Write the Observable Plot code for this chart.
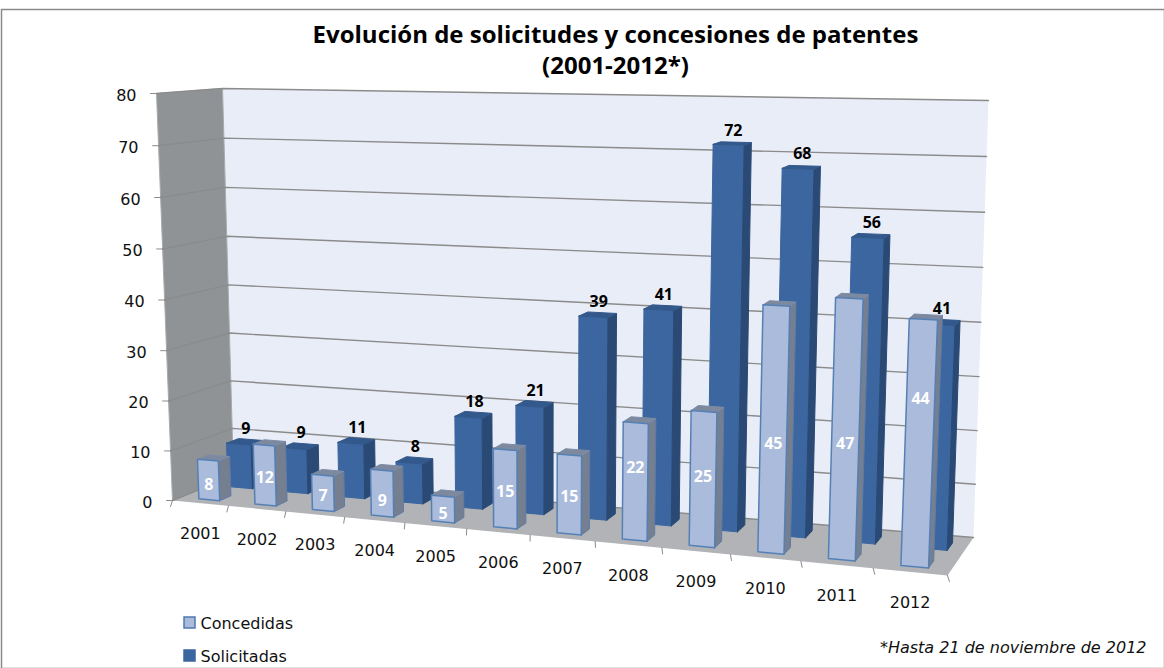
<!DOCTYPE html>
<html><head><meta charset="utf-8">
<style>html,body{margin:0;padding:0;background:#fff}svg{display:block}</style>
<script src="https://cdn.jsdelivr.net/npm/d3@7"></script>
<script src="https://cdn.jsdelivr.net/npm/@observablehq/plot@0.6"></script>
</head><body><div id="c"></div>
<script>
const years = ["2001","2002","2003","2004","2005","2006","2007","2008","2009","2010","2011","2012"];
const concedidas = [8,12,7,9,5,15,15,22,25,45,47,44];
const solicitadas = [9,9,11,8,18,21,39,41,72,68,56,41];
const valueTicks = [0,10,20,30,40,50,60,70,80];
const titleLines = ["Evolución de solicitudes y concesiones de patentes","(2001-2012*)"];
const seriesNames = ["Concedidas","Solicitadas"];
const footnote = "*Hasta 21 de noviembre de 2012";

// Layout: the axis height at which each white label sits inside its bar
const concLabelHeights = [3,5.5,3,3,1.5,7,7,13.5,13,20,21,30];

// Perspective box of the 3-D chart: corners [front/back][left/right][bottom/top]
const C = {
  fl0:[172,500], fl1:[156,93], bl0:[233,475], bl1:[222,88],
  fr0:[947,575], fr1:[965,113], br0:[973,537], br1:[988,100]
};
const warp = (t,a) => t/(t+a*(1-t));
const mix = (p,q,t) => [p[0]+(q[0]-p[0])*t, p[1]+(q[1]-p[1])*t];
// cat: category position 0..12, depth: 0 front..1 back, val: axis value
function project(cat, depth, val){
  const u = warp(cat/12,1.167), w = warp(val/80,1.03);
  const f0 = mix(C.fl0,C.fr0,u), f1 = mix(C.fl1,C.fr1,u);
  const b0 = mix(C.bl0,C.br0,u), b1 = mix(C.bl1,C.br1,u);
  return mix(mix(f0,b0,depth), mix(f1,b1,depth), w);
}
function poly(id, corners){
  const pts = [...corners, corners[0]];
  return pts.map(([c,d,v]) => { const [x,y] = project(c,d,v); return {id,x,y}; });
}
function barFaces(values, d0, d1, center, hw){
  const front=[], side=[], top=[];
  values.forEach((v,i)=>{
    const a=i+center-hw, b=i+center+hw;
    front.push(...poly(i,[[a,d0,0],[b,d0,0],[b,d0,v],[a,d0,v]]));
    side.push(...poly(i,[[b,d0,0],[b,d1,0],[b,d1,v],[b,d0,v]]));
    top.push(...poly(i,[[a,d0,v],[b,d0,v],[b,d1,v],[a,d1,v]]));
  });
  return {front,side,top};
}
const cF = barFaces(concedidas,.14,.33,.51,.187);
const sF = barFaces(solicitadas,.62,.82,.55,.225);
const face = (data,fill,stroke,sw=1)=>Plot.line(data,{x:"x",y:"y",z:"id",fill,stroke,strokeWidth:sw});

const grid = valueTicks.flatMap(v=>{
  const a=project(0,0,v), b=project(0,1,v), c=project(12,1,v);
  return [a,b,c].map(([x,y])=>({id:v,x,y}));
});
const xTicks = d3.range(13).flatMap(i=>{
  const [x,y]=project(i,0,0);
  return [{id:i,x,y},{id:i,x:x+(i/12-.5)*4,y:y+6}];
});
const yTicks = valueTicks.flatMap(v=>{
  const [x,y]=project(0,0,v);
  return [{id:v,x,y},{id:v,x:x-6,y:y}];
});
const at = (c,d,v)=>{const [x,y]=project(c,d,v);return {x,y};};
const yearLabels = years.map((t,i)=>({t,...at(i+.5,0,0)}));
const tickLabels = valueTicks.map(t=>({t,...at(0,0,t)}));
const solLabels = solicitadas.map((t,i)=>({t,...at(i+.55,.72,t)}));
const concLabels = concedidas.map((t,i)=>({t,...at(i+.51,.14,concLabelHeights[i])}));

const axisFont = "DejaVu Sans, Verdana, sans-serif";
const boldFont = "Open Sans, Noto Sans, sans-serif";
const chart = Plot.plot({
  width:1164, height:668,
  marginTop:9, marginLeft:1, marginRight:0, marginBottom:0,
  x:{domain:[0,1164],range:[0,1164],axis:null},
  y:{domain:[0,668],range:[0,668],axis:null},
  marks:[
    Plot.frame({stroke:"#8a8a8a",strokeWidth:1.5}),
    face(poly("back",[[0,1,0],[12,1,0],[12,1,80],[0,1,80]]),"#E9EDF7","none"),
    face(poly("left",[[0,0,0],[0,1,0],[0,1,80],[0,0,80]]),"#909396","#a8aaad",1),
    face(poly("floor",[[0,0,0],[12,0,0],[12,1,0],[0,1,0]]),"#B1B3B6","none"),
    Plot.line(grid,{x:"x",y:"y",z:"id",stroke:"#8b8b8b",strokeWidth:1.4}),
    Plot.line(xTicks,{x:"x",y:"y",z:"id",stroke:"#8b8b8b",strokeWidth:1}),
    Plot.line(yTicks,{x:"x",y:"y",z:"id",stroke:"#8b8b8b",strokeWidth:1}),
    face(sF.front,"#3B669F","#3B669F",1),
    face(sF.side,"#2A4A75","#2A4A75",1),
    face(sF.top,"#33588C","#33588C",1),
    face(cF.side,"#757F90","#5f7ba6",1),
    face(cF.top,"#7C899F","#7d8ca6",1),
    face(cF.front,"#AABBDB","#5580B5",1.5),
    Plot.text(tickLabels,{x:"x",y:"y",text:"t",dx:-20,dy:2,textAnchor:"end",fontSize:16,fontFamily:axisFont,fill:"#111"}),
    Plot.text(yearLabels,{x:"x",y:"y",text:"t",dy:31,fontSize:16,fontFamily:axisFont,fill:"#111"}),
    Plot.text(solLabels,{x:"x",y:"y",text:"t",dy:-13,dx:1,fontSize:16,fontWeight:"bold",fontFamily:boldFont,fill:"#000"}),
    Plot.text(concLabels,{x:"x",y:"y",text:"t",fontSize:16,fontWeight:"bold",fontFamily:boldFont,fill:"#fff"}),
    Plot.text(titleLines,{x:()=>615,y:(d,i)=>35+i*31,text:d=>d,fontSize:24,fontWeight:"bold",fontFamily:boldFont,fill:"#000"}),
    Plot.dot(seriesNames,{x:()=>189,y:(d,i)=>622+i*33,symbol:"square",r:6.2,fill:["#AABBDB","#3B669F"],stroke:["#4F78B0","#3B669F"],strokeWidth:1.5}),
    Plot.text(seriesNames,{x:()=>200,y:(d,i)=>623+i*33,text:d=>d,textAnchor:"start",fontSize:16,fontFamily:axisFont,fill:"#111"}),
    Plot.text([footnote],{x:()=>1146,y:()=>647,text:d=>d,textAnchor:"end",fontSize:16,fontStyle:"italic",fontFamily:axisFont,fill:"#111"})
  ]
});
document.getElementById("c").appendChild(chart);
</script></body></html>
